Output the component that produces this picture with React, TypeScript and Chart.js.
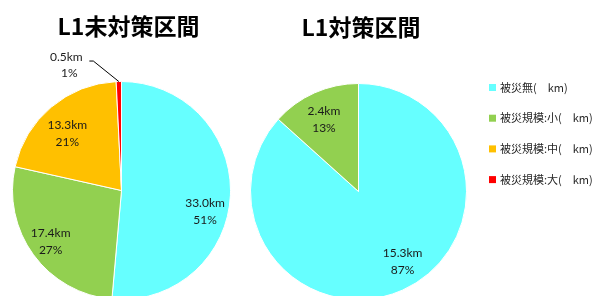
import React, { useEffect, useRef } from 'react';
import { Chart, registerables } from 'chart.js';

Chart.register(...registerables);

// ---- data ----
const categories = ['被災無(\u3000km)', '被災規模:小(\u3000km)', '被災規模:中(\u3000km)', '被災規模:大(\u3000km)'];
const sliceColors = ['#66FFFF', '#92D050', '#FFC000', '#FF0000'];
const leftTitle = 'L1未対策区間';
const rightTitle = 'L1対策区間';
const leftValues = [33.0, 17.4, 13.3, 0.5];
const rightValues = [15.34, 2.36, 0, 0];

const LABEL_FONT = '12px Lato, "Noto Sans", sans-serif';
const CJK_FONT = '"Noto Sans CJK JP", "Noto Sans", sans-serif';

const titlePlugin = {
  id: 'customTitle',
  afterDraw(chart: any, _args: any, opts: any) {
    if (!opts || !opts.text) return;
    const ctx = chart.ctx;
    ctx.save();
    ctx.font = `bold 23px ${CJK_FONT}`;
    ctx.fillStyle = '#000';
    ctx.textAlign = 'center';
    ctx.textBaseline = 'middle';
    ctx.fillText(opts.text, opts.x, opts.y);
    ctx.restore();
  },
};

const sliceLabelPlugin = {
  id: 'sliceLabels',
  afterDatasetsDraw(chart: any, _args: any, opts: any) {
    const ctx = chart.ctx;
    const meta = chart.getDatasetMeta(0);
    const data = chart.data.datasets[0].data as number[];
    const total = data.reduce((a: number, b: number) => a + b, 0);
    const factors: number[] = (opts && opts.factors) || [];
    const shifts: number[] = (opts && opts.shifts) || [];
    ctx.save();
    ctx.font = LABEL_FONT;
    ctx.fillStyle = '#1a1a1a';
    ctx.textAlign = 'center';
    ctx.textBaseline = 'middle';
    meta.data.forEach((arc: any, i: number) => {
      const v = data[i];
      if (!v) return;
      const p = arc.getProps(['x', 'y', 'startAngle', 'endAngle', 'outerRadius'], true);
      const mid = (p.startAngle + p.endAngle) / 2;
      const frac = v / total;
      const l1 = v.toFixed(1) + 'km';
      const l2 = Math.round(frac * 100) + '%';
      if (frac < 0.03) {
        const ex = p.x + Math.cos(mid) * p.outerRadius;
        const ey = p.y + Math.sin(mid) * p.outerRadius;
        const kx = ex - 25.5;
        const ky = ey - 20.5;
        const sx = kx - 4;
        ctx.strokeStyle = '#000';
        ctx.lineWidth = 1;
        ctx.beginPath();
        ctx.moveTo(ex, ey);
        ctx.lineTo(kx, ky);
        ctx.lineTo(sx, ky);
        ctx.stroke();
        ctx.fillText(l1, sx - 23, ky - 4);
        ctx.fillText(l2, sx - 20, ky + 12.5);
      } else {
        const f = factors[i] != null ? factors[i] : 0.77;
        const a = mid + ((shifts[i] || 0) * Math.PI) / 180;
        const r = p.outerRadius * f;
        const cx = p.x + Math.cos(a) * r;
        const cy = p.y + Math.sin(a) * r;
        ctx.fillText(l1, cx, cy - 8.5);
        ctx.fillText(l2, cx, cy + 8.5);
      }
    });
    ctx.restore();
  },
};

const legendPlugin = {
  id: 'customLegend',
  afterDraw(chart: any, _args: any, opts: any) {
    if (!opts || !opts.show) return;
    const ctx = chart.ctx;
    const labels = chart.data.labels as string[];
    const colors = chart.data.datasets[0].backgroundColor as string[];
    ctx.save();
    ctx.font = `11px ${CJK_FONT}`;
    ctx.textAlign = 'left';
    ctx.textBaseline = 'middle';
    labels.forEach((lab, i) => {
      const y = opts.y + i * opts.step;
      ctx.fillStyle = colors[i];
      ctx.fillRect(opts.x, y - 3.5, 7, 7);
      ctx.fillStyle = '#262626';
      ctx.fillText(lab, opts.x + 11, y);
    });
    ctx.restore();
  },
};

function makeConfig(values: number[], padding: any, title: any, legend: any, labelOpts: any): any {
  return {
    type: 'pie',
    data: {
      labels: categories,
      datasets: [
        {
          data: values,
          backgroundColor: sliceColors,
          borderColor: '#ffffff',
          borderWidth: 1,
          hoverOffset: 0,
          hoverBorderWidth: 1,
        },
      ],
    },
    options: {
      responsive: false,
      maintainAspectRatio: false,
      devicePixelRatio: 1,
      animation: false,
      events: [],
      layout: { padding },
      plugins: {
        legend: { display: false },
        tooltip: { enabled: false },
        title: { display: false },
        customTitle: title,
        customLegend: legend,
        sliceLabels: labelOpts,
      },
    },
    plugins: [titlePlugin, sliceLabelPlugin, legendPlugin],
  };
}

export default function App() {
  const leftRef = useRef<HTMLCanvasElement>(null);
  const rightRef = useRef<HTMLCanvasElement>(null);

  useEffect(() => {
    const left = new Chart(
      leftRef.current as HTMLCanvasElement,
      makeConfig(
        leftValues,
        { left: 12, right: 19, top: 81, bottom: 30 },
        { text: leftTitle, x: 128.5, y: 26.5 },
        { show: false },
        { factors: [0.79, 0.8, 0.72, 0.8], shifts: [11.5, 0.5, -3.6, 0] }
      )
    );
    const right = new Chart(
      rightRef.current as HTMLCanvasElement,
      makeConfig(
        rightValues,
        { left: 10, right: 134, top: 83, bottom: 30 },
        { text: rightTitle, x: 121, y: 27.5 },
        { show: true, x: 249, y: 87.5, step: 30.7 },
        { factors: [0.77, 0.74, 0.77, 0.77], shifts: [-8, -1.6, 0, 0] }
      )
    );
    return () => {
      left.destroy();
      right.destroy();
    };
  }, []);

  return (
    <div
      style={{
        position: 'fixed',
        left: 0,
        top: 0,
        width: 601,
        height: 296,
        overflow: 'hidden',
        background: '#ffffff',
      }}
    >
      <canvas
        ref={leftRef}
        width={250}
        height={330}
        style={{ position: 'absolute', left: 0, top: 0, width: 250, height: 330, display: 'block' }}
      />
      <canvas
        ref={rightRef}
        width={361}
        height={330}
        style={{ position: 'absolute', left: 240, top: 0, width: 361, height: 330, display: 'block' }}
      />
    </div>
  );
}
